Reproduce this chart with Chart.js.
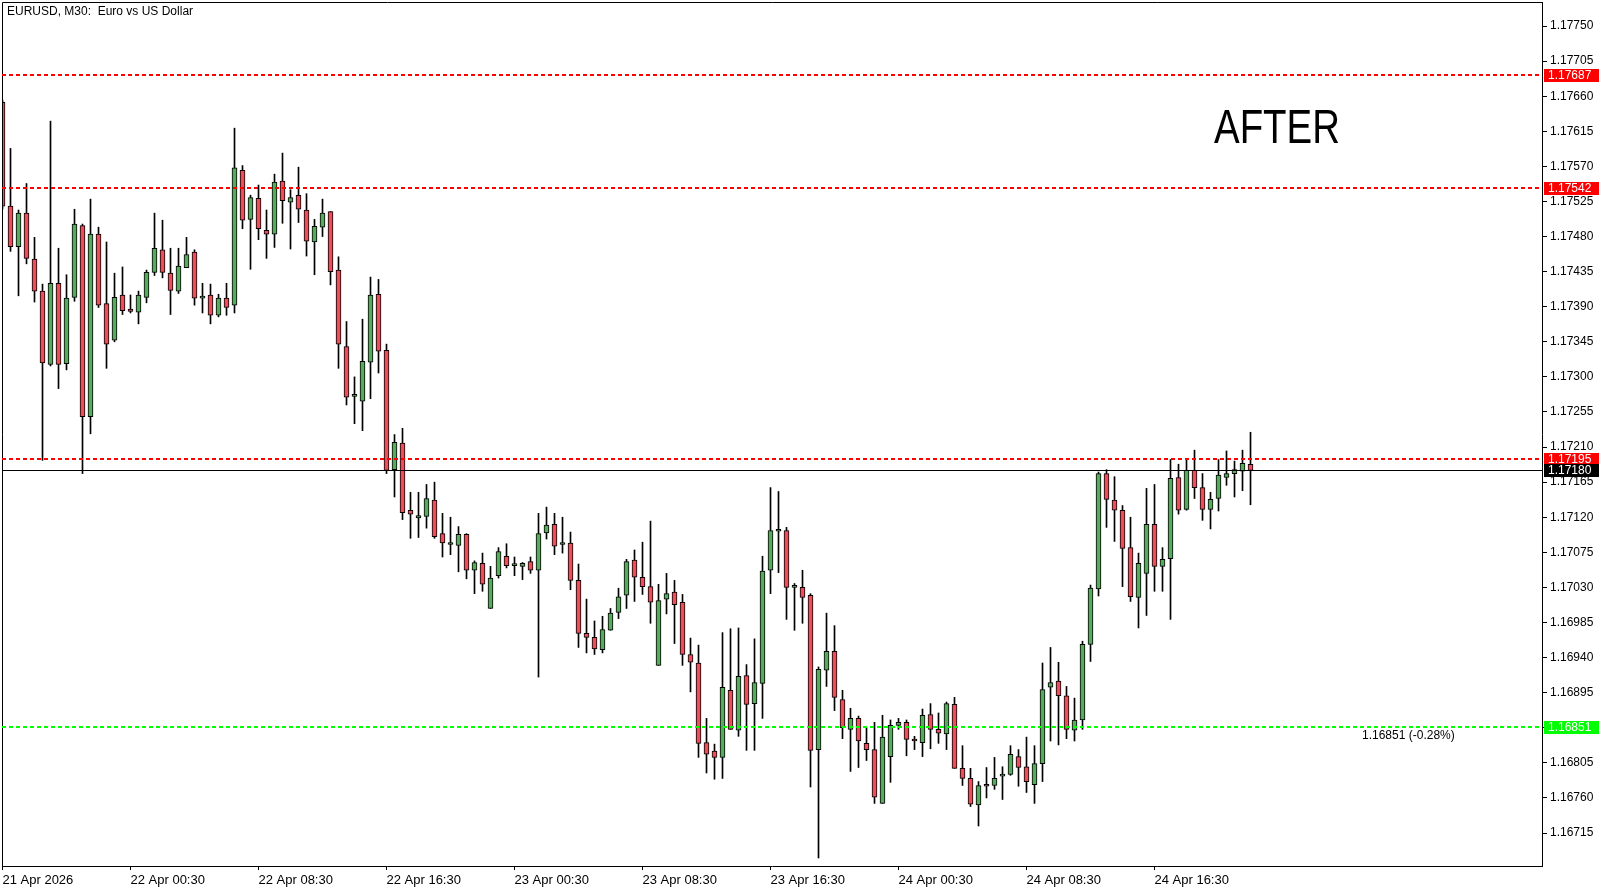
<!DOCTYPE html>
<html>
<head>
<meta charset="utf-8">
<title>EURUSD, M30</title>
<script src="https://cdn.jsdelivr.net/npm/chart.js@4.4.1/dist/chart.umd.min.js"></script>
<style>
  html, body { margin: 0; padding: 0; background: #ffffff; }
  #wrap { width: 1612px; height: 891px; }
</style>
</head>
<body>
<div id="wrap"><canvas id="myChart" width="1612" height="891"></canvas></div>
<script>
// EURUSD M30 candles, 21 Apr 16:30 -> 24 Apr 22:30
const opens = [
  1.17652, 1.17519, 1.17467, 1.17510, 1.17451, 1.17410, 1.17316, 1.17420, 1.17317, 1.17402,
  1.17494, 1.17249, 1.17483, 1.17394, 1.17347, 1.17405, 1.17387, 1.17383, 1.17402, 1.17434,
  1.17463, 1.17433, 1.17410, 1.17440, 1.17460, 1.17401, 1.17405, 1.17379, 1.17401, 1.17392,
  1.17565, 1.17502, 1.17529, 1.17488, 1.17483, 1.17551, 1.17524, 1.17533, 1.17514, 1.17473,
  1.17492, 1.17512, 1.17437, 1.17339, 1.17275, 1.17269, 1.17319, 1.17406, 1.17334, 1.17181,
  1.17215, 1.17129, 1.17119, 1.17121, 1.17142, 1.17099, 1.17085, 1.17084, 1.17098, 1.17052,
  1.17061, 1.17003, 1.17045, 1.17070, 1.17058, 1.17057, 1.17063, 1.17052, 1.17100, 1.17111,
  1.17085, 1.17087, 1.17039, 1.16971, 1.16966, 1.16950, 1.16975, 1.16998, 1.17020, 1.17065,
  1.17043, 1.17031, 1.16930, 1.17015, 1.17024, 1.17011, 1.16944, 1.16933, 1.16831, 1.16820,
  1.16812, 1.16898, 1.16847, 1.16917, 1.16881, 1.16907, 1.17052, 1.17102, 1.17103, 1.17030,
  1.17030, 1.17020, 1.16822, 1.16924, 1.16948, 1.16886, 1.16848, 1.16862, 1.16830, 1.16822,
  1.16753, 1.16813, 1.16853, 1.16857, 1.16835, 1.16831, 1.16867, 1.16848, 1.16842, 1.16880,
  1.16798, 1.16785, 1.16751, 1.16777, 1.16776, 1.16788, 1.16790, 1.16813, 1.16800, 1.16777,
  1.16804, 1.16902, 1.16910, 1.16891, 1.16847, 1.16860, 1.16957, 1.17028, 1.17176, 1.17142,
  1.17129, 1.17081, 1.17017, 1.17048, 1.17111, 1.17057, 1.17067, 1.17171, 1.17130, 1.17180,
  1.17158, 1.17130, 1.17144, 1.17171, 1.17176, 1.17179, 1.17188
];
const highs = [
  1.17655, 1.17593, 1.17514, 1.17548, 1.17479, 1.17419, 1.17628, 1.17465, 1.17431, 1.17515,
  1.17496, 1.17528, 1.17492, 1.17473, 1.17433, 1.17441, 1.17405, 1.17410, 1.17437, 1.17510,
  1.17501, 1.17465, 1.17465, 1.17479, 1.17463, 1.17420, 1.17419, 1.17406, 1.17420, 1.17619,
  1.17571, 1.17533, 1.17546, 1.17514, 1.17560, 1.17587, 1.17540, 1.17569, 1.17535, 1.17502,
  1.17528, 1.17512, 1.17454, 1.17371, 1.17300, 1.17374, 1.17428, 1.17425, 1.17342, 1.17226,
  1.17234, 1.17152, 1.17152, 1.17162, 1.17165, 1.17125, 1.17120, 1.17108, 1.17099, 1.17064,
  1.17074, 1.17057, 1.17081, 1.17086, 1.17069, 1.17062, 1.17069, 1.17125, 1.17133, 1.17125,
  1.17120, 1.17101, 1.17060, 1.17015, 1.16987, 1.16993, 1.17003, 1.17029, 1.17066, 1.17078,
  1.17088, 1.17115, 1.17034, 1.17048, 1.17039, 1.17021, 1.16965, 1.16956, 1.16862, 1.16829,
  1.16972, 1.16977, 1.16978, 1.16931, 1.16964, 1.17070, 1.17158, 1.17153, 1.17107, 1.17035,
  1.17052, 1.17022, 1.16928, 1.16997, 1.16981, 1.16898, 1.16875, 1.16865, 1.16850, 1.16857,
  1.16866, 1.16860, 1.16862, 1.16860, 1.16839, 1.16874, 1.16881, 1.16869, 1.16883, 1.16889,
  1.16827, 1.16798, 1.16781, 1.16799, 1.16812, 1.16800, 1.16827, 1.16822, 1.16838, 1.16827,
  1.16933, 1.16953, 1.16934, 1.16903, 1.16888, 1.16961, 1.17033, 1.17178, 1.17181, 1.17172,
  1.17135, 1.17120, 1.17074, 1.17157, 1.17162, 1.17081, 1.17194, 1.17188, 1.17194, 1.17206,
  1.17176, 1.17152, 1.17194, 1.17205, 1.17192, 1.17206, 1.17229
];
const lows = [
  1.17515, 1.17461, 1.17404, 1.17445, 1.17396, 1.17193, 1.17314, 1.17285, 1.17309, 1.17397,
  1.17176, 1.17227, 1.17389, 1.17311, 1.17345, 1.17380, 1.17382, 1.17368, 1.17395, 1.17430,
  1.17427, 1.17380, 1.17407, 1.17440, 1.17392, 1.17382, 1.17368, 1.17377, 1.17379, 1.17382,
  1.17490, 1.17438, 1.17476, 1.17452, 1.17466, 1.17497, 1.17464, 1.17498, 1.17455, 1.17431,
  1.17480, 1.17418, 1.17311, 1.17264, 1.17240, 1.17231, 1.17272, 1.17305, 1.17176, 1.17146,
  1.17117, 1.17093, 1.17094, 1.17106, 1.17093, 1.17069, 1.17072, 1.17050, 1.17041, 1.17022,
  1.17025, 1.17003, 1.17042, 1.17055, 1.17045, 1.17040, 1.17048, 1.16915, 1.17092, 1.17072,
  1.17074, 1.17027, 1.16953, 1.16946, 1.16944, 1.16946, 1.16975, 1.16990, 1.17003, 1.17012,
  1.17021, 1.16984, 1.16930, 1.16996, 1.16958, 1.16930, 1.16896, 1.16812, 1.16792, 1.16784,
  1.16785, 1.16848, 1.16839, 1.16821, 1.16821, 1.16862, 1.17022, 1.17049, 1.16989, 1.16975,
  1.16984, 1.16774, 1.16683, 1.16903, 1.16872, 1.16836, 1.16794, 1.16799, 1.16808, 1.16753,
  1.16753, 1.16780, 1.16848, 1.16814, 1.16822, 1.16813, 1.16823, 1.16830, 1.16822, 1.16798,
  1.16776, 1.16749, 1.16724, 1.16760, 1.16771, 1.16758, 1.16789, 1.16775, 1.16767, 1.16753,
  1.16781, 1.16833, 1.16828, 1.16836, 1.16833, 1.16848, 1.16935, 1.17019, 1.17107, 1.17089,
  1.17031, 1.17012, 1.16978, 1.16994, 1.17025, 1.17025, 1.16989, 1.17124, 1.17129, 1.17144,
  1.17116, 1.17105, 1.17128, 1.17161, 1.17146, 1.17154, 1.17136
];
const closes = [
  1.17519, 1.17467, 1.17510, 1.17452, 1.17410, 1.17318, 1.17420, 1.17316, 1.17401, 1.17496,
  1.17249, 1.17483, 1.17392, 1.17342, 1.17402, 1.17385, 1.17384, 1.17405, 1.17434, 1.17465,
  1.17434, 1.17411, 1.17442, 1.17457, 1.17401, 1.17403, 1.17379, 1.17401, 1.17389, 1.17568,
  1.17501, 1.17530, 1.17490, 1.17483, 1.17550, 1.17526, 1.17530, 1.17515, 1.17474, 1.17493,
  1.17510, 1.17435, 1.17342, 1.17274, 1.17275, 1.17320, 1.17405, 1.17333, 1.17180, 1.17216,
  1.17126, 1.17124, 1.17122, 1.17144, 1.17095, 1.17087, 1.17085, 1.17098, 1.17052, 1.17062,
  1.17034, 1.17042, 1.17076, 1.17058, 1.17058, 1.17061, 1.17052, 1.17099, 1.17110, 1.17083,
  1.17085, 1.17039, 1.16971, 1.16966, 1.16951, 1.16976, 1.16997, 1.17018, 1.17063, 1.17043,
  1.17031, 1.17011, 1.17013, 1.17022, 1.17008, 1.16944, 1.16934, 1.16830, 1.16816, 1.16812,
  1.16902, 1.16848, 1.16916, 1.16880, 1.16908, 1.17051, 1.17103, 1.17102, 1.17030, 1.17030,
  1.17017, 1.16821, 1.16925, 1.16948, 1.16889, 1.16850, 1.16862, 1.16833, 1.16822, 1.16761,
  1.16838, 1.16853, 1.16857, 1.16835, 1.16833, 1.16866, 1.16848, 1.16843, 1.16881, 1.16798,
  1.16785, 1.16752, 1.16776, 1.16775, 1.16785, 1.16790, 1.16816, 1.16799, 1.16781, 1.16804,
  1.16899, 1.16908, 1.16891, 1.16848, 1.16860, 1.16957, 1.17029, 1.17176, 1.17143, 1.17129,
  1.17080, 1.17018, 1.17061, 1.17111, 1.17057, 1.17066, 1.17170, 1.17129, 1.17180, 1.17158,
  1.17130, 1.17143, 1.17174, 1.17176, 1.17181, 1.17189, 1.17180
];

// time axis labels, one every 16 bars (8 hours)
const timeLabels = ['21 Apr 2026', '22 Apr 00:30', '22 Apr 08:30', '22 Apr 16:30', '23 Apr 00:30',
                    '23 Apr 08:30', '23 Apr 16:30', '24 Apr 00:30', '24 Apr 08:30', '24 Apr 16:30'];
const barsPerLabel = 16;

// price axis ticks
const priceTicks = [1.16715, 1.16760, 1.16805, 1.16850, 1.16895, 1.16940, 1.16985, 1.17030,
                    1.17075, 1.17120, 1.17165, 1.17210, 1.17255, 1.17300, 1.17345, 1.17390,
                    1.17435, 1.17480, 1.17525, 1.17570, 1.17615, 1.17660, 1.17705, 1.17750];

// horizontal levels
const resistanceLevels = [1.17687, 1.17542, 1.17195];
const supportLevel = 1.16851;
const supportChange = '-0.28%';
const bidPrice = 1.17180;

const UP = '#57ab5c';
const DOWN = '#ee4d59';
const FONT = "'Liberation Sans', Arial, sans-serif";

const wickData = lows.map((l, i) => ({ x: i, y: [l, highs[i]] }));
const bodyData = opens.map((o, i) => ({ x: i, y: [o, closes[i]] }));
const bodyColors = opens.map((o, i) => closes[i] >= o ? UP : DOWN);

const boxLabel = (ctx, y, text, bg, fg) => {
  ctx.fillStyle = bg;
  ctx.fillRect(1544, Math.round(y) - 6, 55, 13);
  ctx.fillStyle = fg;
  ctx.font = '12px ' + FONT;
  ctx.textBaseline = 'middle';
  ctx.textAlign = 'left';
  ctx.fillText(text, 1548, Math.round(y) + 1);
};

const overlay = {
  id: 'overlay',
  afterDatasetsDraw(chart) {
    const ctx = chart.ctx;
    const a = chart.chartArea;
    const ys = chart.scales.y;
    ctx.save();
    // frame on left / top
    ctx.strokeStyle = '#000';
    ctx.lineWidth = 1;
    ctx.beginPath();
    ctx.moveTo(a.left + 0.5, a.bottom);
    ctx.lineTo(a.left + 0.5, a.top + 0.5);
    ctx.lineTo(a.right, a.top + 0.5);
    ctx.stroke();

    ctx.lineWidth = 2;
    ctx.setLineDash([4, 3]);
    ctx.strokeStyle = '#ff0000';
    resistanceLevels.forEach(p => {
      const y = Math.round(ys.getPixelForValue(p));
      ctx.beginPath();
      ctx.moveTo(a.left, y);
      ctx.lineTo(a.right, y);
      ctx.stroke();
    });
    ctx.strokeStyle = '#00ff00';
    const sy = Math.round(ys.getPixelForValue(supportLevel));
    ctx.beginPath();
    ctx.moveTo(a.left, sy);
    ctx.lineTo(a.right, sy);
    ctx.stroke();

    ctx.setLineDash([]);
    ctx.lineWidth = 1;
    ctx.strokeStyle = '#000';
    const by = Math.round(ys.getPixelForValue(bidPrice)) + 0.5;
    ctx.beginPath();
    ctx.moveTo(a.left, by);
    ctx.lineTo(a.right, by);
    ctx.stroke();
    ctx.restore();
  },
  afterDraw(chart) {
    const ctx = chart.ctx;
    const ys = chart.scales.y;
    ctx.save();
    resistanceLevels.forEach(p => boxLabel(ctx, ys.getPixelForValue(p), p.toFixed(5), '#ff0000', '#fff'));
    boxLabel(ctx, ys.getPixelForValue(bidPrice), bidPrice.toFixed(5), '#000', '#fff');
    boxLabel(ctx, ys.getPixelForValue(supportLevel), supportLevel.toFixed(5), '#00ff00', '#fff');

    ctx.fillStyle = '#000';
    ctx.textAlign = 'left';
    ctx.textBaseline = 'middle';
    ctx.font = '12px ' + FONT;
    ctx.fillText('EURUSD, M30:  Euro vs US Dollar', 7, 12);
    ctx.fillText(supportLevel.toFixed(5) + ' (' + supportChange + ')',
                 1362, ys.getPixelForValue(supportLevel) + 9);

    // big note text
    ctx.font = '49px ' + FONT;
    ctx.textBaseline = 'alphabetic';
    const w = ctx.measureText('AFTER').width;
    ctx.translate(1214, 143);
    ctx.scale(126 / w, 1);
    ctx.fillText('AFTER', 0, 0);
    ctx.restore();
  }
};

const myChart = new Chart(document.getElementById('myChart').getContext('2d'), {
  type: 'bar',
  data: {
    datasets: [
      {
        label: 'body',
        data: bodyData,
        backgroundColor: bodyColors,
        borderColor: '#000',
        borderWidth: 1,
        borderSkipped: false,
        barThickness: 5,
        minBarLength: 2,
        grouped: false,
        order: 0
      },
      {
        label: 'wick',
        data: wickData,
        backgroundColor: '#000',
        borderWidth: 0,
        barThickness: 1,
        grouped: false,
        order: 1
      }
    ]
  },
  options: {
    responsive: false,
    animation: false,
    devicePixelRatio: 1,
    layout: { padding: { left: 2, top: 2, right: 0, bottom: 0 } },
    plugins: { legend: { display: false }, tooltip: { enabled: false } },
    scales: {
      x: {
        type: 'linear',
        position: 'bottom',
        offset: false,
        min: -0.0625,
        max: -0.0625 + 1540 / 8,
        grid: { offset: false, drawOnChartArea: false, drawTicks: true, tickLength: 4, color: '#000' },
        border: { display: true, color: '#000' },
        ticks: {
          align: 'start',
          padding: 3,
          autoSkip: false,
          maxRotation: 0,
          color: '#000',
          font: { family: "'Liberation Sans Narrow', 'Liberation Sans', sans-serif", size: 13 },
          callback: (v, i) => timeLabels[i]
        },
        afterBuildTicks: s => { s.ticks = timeLabels.map((t, i) => ({ value: i * barsPerLabel })); },
        afterFit: s => { s.height = 25; s.paddingLeft = 0; s.paddingRight = 0; }
      },
      y: {
        type: 'linear',
        position: 'right',
        min: 1.166727,
        max: 1.177808,
        grid: { drawOnChartArea: false, drawTicks: true, tickLength: 5, color: '#000' },
        border: { display: true, color: '#000' },
        ticks: {
          padding: 3,
          color: '#000',
          font: { family: FONT, size: 12 },
          callback: v => v.toFixed(5)
        },
        afterBuildTicks: s => { s.ticks = priceTicks.map(p => ({ value: p })); },
        afterFit: s => { s.width = 70; s.paddingTop = 0; s.paddingBottom = 0; }
      }
    }
  },
  plugins: [overlay]
});
</script>
</body>
</html>
